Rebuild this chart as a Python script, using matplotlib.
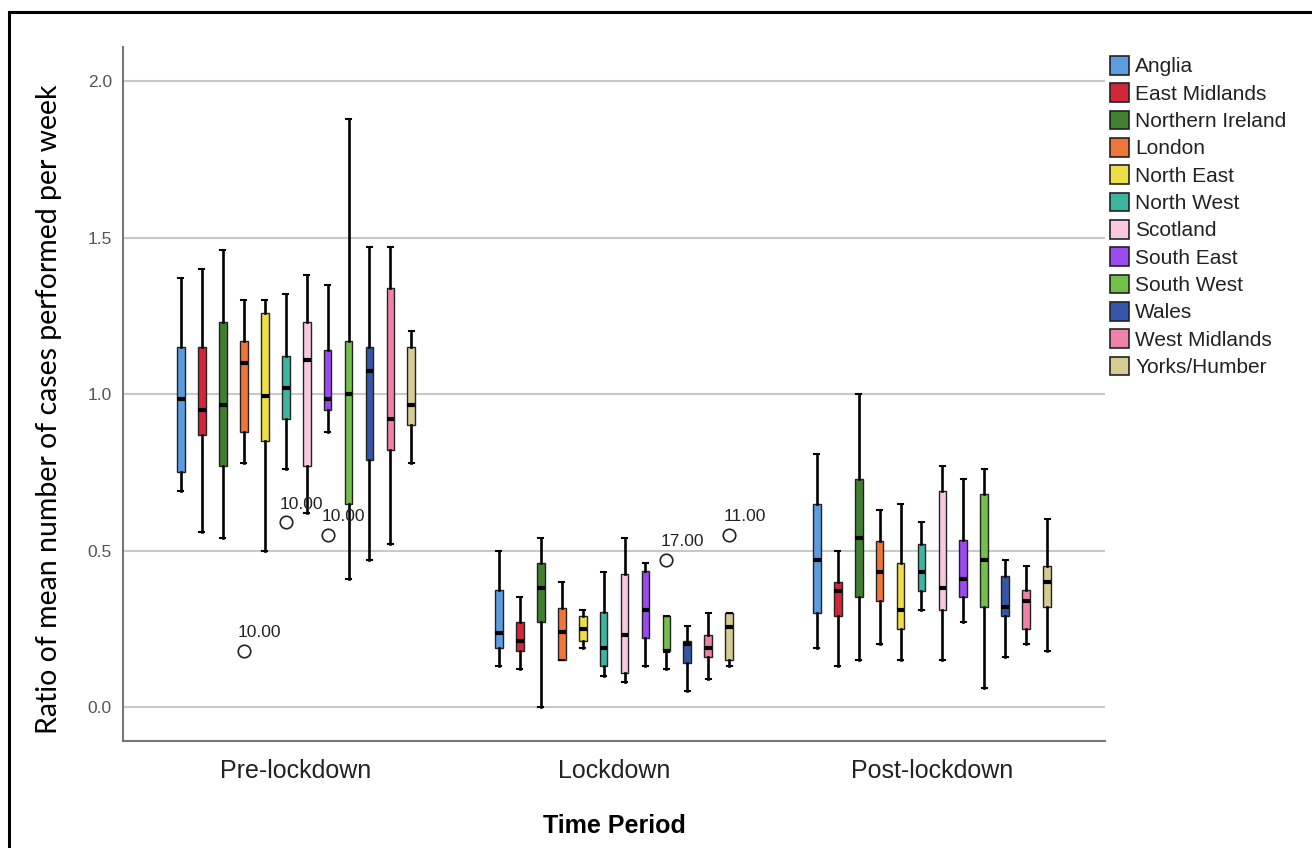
import matplotlib
matplotlib.use("Agg")
import matplotlib.pyplot as plt
from matplotlib.patches import Patch
from matplotlib.lines import Line2D

periods = ["Pre-lockdown", "Lockdown", "Post-lockdown"]
regions = ["Anglia", "East Midlands", "Northern Ireland", "London", "North East",
           "North West", "Scotland", "South East", "South West", "Wales",
           "West Midlands", "Yorks/Humber"]
colors = ["#5B9BE0", "#D0283A", "#3F7F2F", "#EF7538", "#EEDD44", "#3DB5A0",
          "#F8C8E0", "#9A4BF0", "#72BF4A", "#3556A8", "#EE82AA", "#D6CB92"]

# Pre-lockdown
pre_low = [0.69, 0.56, 0.54, 0.78, 0.50, 0.76, 0.62, 0.88, 0.41, 0.47, 0.52, 0.78]
pre_q1 = [0.75, 0.87, 0.77, 0.88, 0.85, 0.92, 0.77, 0.95, 0.65, 0.79, 0.82, 0.90]
pre_med = [0.985, 0.95, 0.965, 1.10, 0.995, 1.02, 1.11, 0.985, 1.0, 1.075, 0.92, 0.965]
pre_q3 = [1.15, 1.15, 1.23, 1.17, 1.26, 1.12, 1.23, 1.14, 1.17, 1.15, 1.34, 1.15]
pre_high = [1.37, 1.40, 1.46, 1.30, 1.30, 1.32, 1.38, 1.35, 1.88, 1.47, 1.47, 1.20]

# Lockdown
lock_low = [0.13, 0.12, 0.0, 0.15, 0.19, 0.10, 0.08, 0.13, 0.12, 0.05, 0.09, 0.13]
lock_q1 = [0.19, 0.18, 0.27, 0.15, 0.21, 0.13, 0.11, 0.22, 0.18, 0.14, 0.16, 0.15]
lock_med = [0.235, 0.21, 0.38, 0.24, 0.25, 0.19, 0.23, 0.31, 0.18, 0.20, 0.19, 0.255]
lock_q3 = [0.375, 0.27, 0.46, 0.315, 0.29, 0.305, 0.425, 0.435, 0.29, 0.21, 0.23, 0.30]
lock_high = [0.50, 0.35, 0.54, 0.40, 0.31, 0.43, 0.54, 0.46, 0.29, 0.26, 0.30, 0.30]

# Post-lockdown
post_low = [0.19, 0.13, 0.15, 0.20, 0.15, 0.31, 0.15, 0.27, 0.06, 0.16, 0.20, 0.18]
post_q1 = [0.30, 0.29, 0.35, 0.34, 0.25, 0.37, 0.31, 0.35, 0.32, 0.29, 0.25, 0.32]
post_med = [0.47, 0.37, 0.54, 0.43, 0.31, 0.43, 0.38, 0.41, 0.47, 0.32, 0.34, 0.40]
post_q3 = [0.65, 0.40, 0.73, 0.53, 0.46, 0.52, 0.69, 0.535, 0.68, 0.42, 0.375, 0.45]
post_high = [0.81, 0.50, 1.00, 0.63, 0.65, 0.59, 0.77, 0.73, 0.76, 0.47, 0.45, 0.60]

# Outliers: (period index, region index, value, label)
outlier_period = [0, 0, 0, 1, 1]
outlier_region = [3, 5, 7, 8, 11]
outlier_value = [0.18, 0.59, 0.55, 0.47, 0.55]
outlier_label = ["10.00", "10.00", "10.00", "17.00", "11.00"]

stats_by_period = [
    (pre_low, pre_q1, pre_med, pre_q3, pre_high),
    (lock_low, lock_q1, lock_med, lock_q3, lock_high),
    (post_low, post_q1, post_med, post_q3, post_high),
]

fig = plt.figure(figsize=(13.12, 8.48), dpi=100)
ax = fig.add_axes([0.0938, 0.1262, 0.7484, 0.8184])

step = 0.066
n = len(regions)

def pos(p, r):
    return p + (r - (n - 1) / 2) * step

for p, (lo, q1, med, q3, hi) in enumerate(stats_by_period):
    stats = []
    for r in range(n):
        fl = [v for pp, rr, v in zip(outlier_period, outlier_region, outlier_value)
              if pp == p and rr == r]
        stats.append(dict(whislo=lo[r], q1=q1[r], med=med[r], q3=q3[r],
                          whishi=hi[r], fliers=fl))
    bp = ax.bxp(stats, positions=[pos(p, r) for r in range(n)], widths=0.025,
                patch_artist=True, showfliers=True, capwidths=0.014,
                boxprops=dict(linewidth=1.0, edgecolor="#222222"),
                whiskerprops=dict(linewidth=1.9, color="black"),
                capprops=dict(linewidth=1.5, color="black"),
                medianprops=dict(linewidth=3.0, color="black", solid_capstyle="butt"),
                flierprops=dict(marker="o", markersize=9, markerfacecolor="white",
                                markeredgecolor="#222222", markeredgewidth=1.2),
                zorder=3)
    for patch, c in zip(bp["boxes"], colors):
        patch.set_facecolor(c)

for pp, rr, v, lab in zip(outlier_period, outlier_region, outlier_value, outlier_label):
    ax.annotate(lab, (pos(pp, rr), v), xytext=(-4.5, 7.5), textcoords="offset points",
                ha="left", va="bottom", fontsize=12.5, color="#222222",
                family="Liberation Sans", zorder=4)

ax.set_xlim(-0.544, 2.544)
ax.set_ylim(-0.1086, 2.109)
ax.set_yticks([0.0, 0.5, 1.0, 1.5, 2.0])
ax.set_yticklabels(["0.0", "0.5", "1.0", "1.5", "2.0"], family="Liberation Sans",
                   fontsize=12.5, color="#555555")
ax.set_xticks([0, 1, 2])
ax.set_xticklabels(periods, family="Liberation Sans", fontsize=18, color="#222222")
ax.tick_params(axis="both", length=0)
ax.tick_params(axis="y", pad=8)
ax.tick_params(axis="x", pad=13)
ax.yaxis.grid(True, color="#C8C8C8", linewidth=1.5, zorder=0)
ax.set_axisbelow(True)
for s in ["top", "right"]:
    ax.spines[s].set_visible(False)
for s in ["left", "bottom"]:
    ax.spines[s].set_color("#777777")
    ax.spines[s].set_linewidth(1.5)

ax.set_xlabel("Time Period", family="Liberation Sans", fontsize=18, fontweight="bold",
              labelpad=22)
ax.set_ylabel("Ratio of mean number of cases performed per week", family="Lato",
              fontsize=20.5)
ax.yaxis.set_label_coords(-0.0621, 0.478)

handles = [Patch(facecolor=c, edgecolor="#222222", linewidth=1.2) for c in colors]
leg = fig.legend(handles, regions, loc="upper left", bbox_to_anchor=(0.843, 0.939),
                 frameon=False, prop=dict(family="Liberation Sans", size=15),
                 handlelength=0.9, handleheight=1.0, handletextpad=0.3,
                 labelspacing=0.33, borderaxespad=0, borderpad=0.2)
for t in leg.get_texts():
    t.set_color("#222222")

# figure frame (top and left edges)
fig.add_artist(Line2D([9 / 1312, 1.0], [1 - 11.5 / 848, 1 - 11.5 / 848],
                      transform=fig.transFigure, color="black", linewidth=2.2))
fig.add_artist(Line2D([9 / 1312, 9 / 1312], [0.0, 1 - 11.5 / 848],
                      transform=fig.transFigure, color="black", linewidth=2.2))

fig.savefig("out.png", dpi=100)
